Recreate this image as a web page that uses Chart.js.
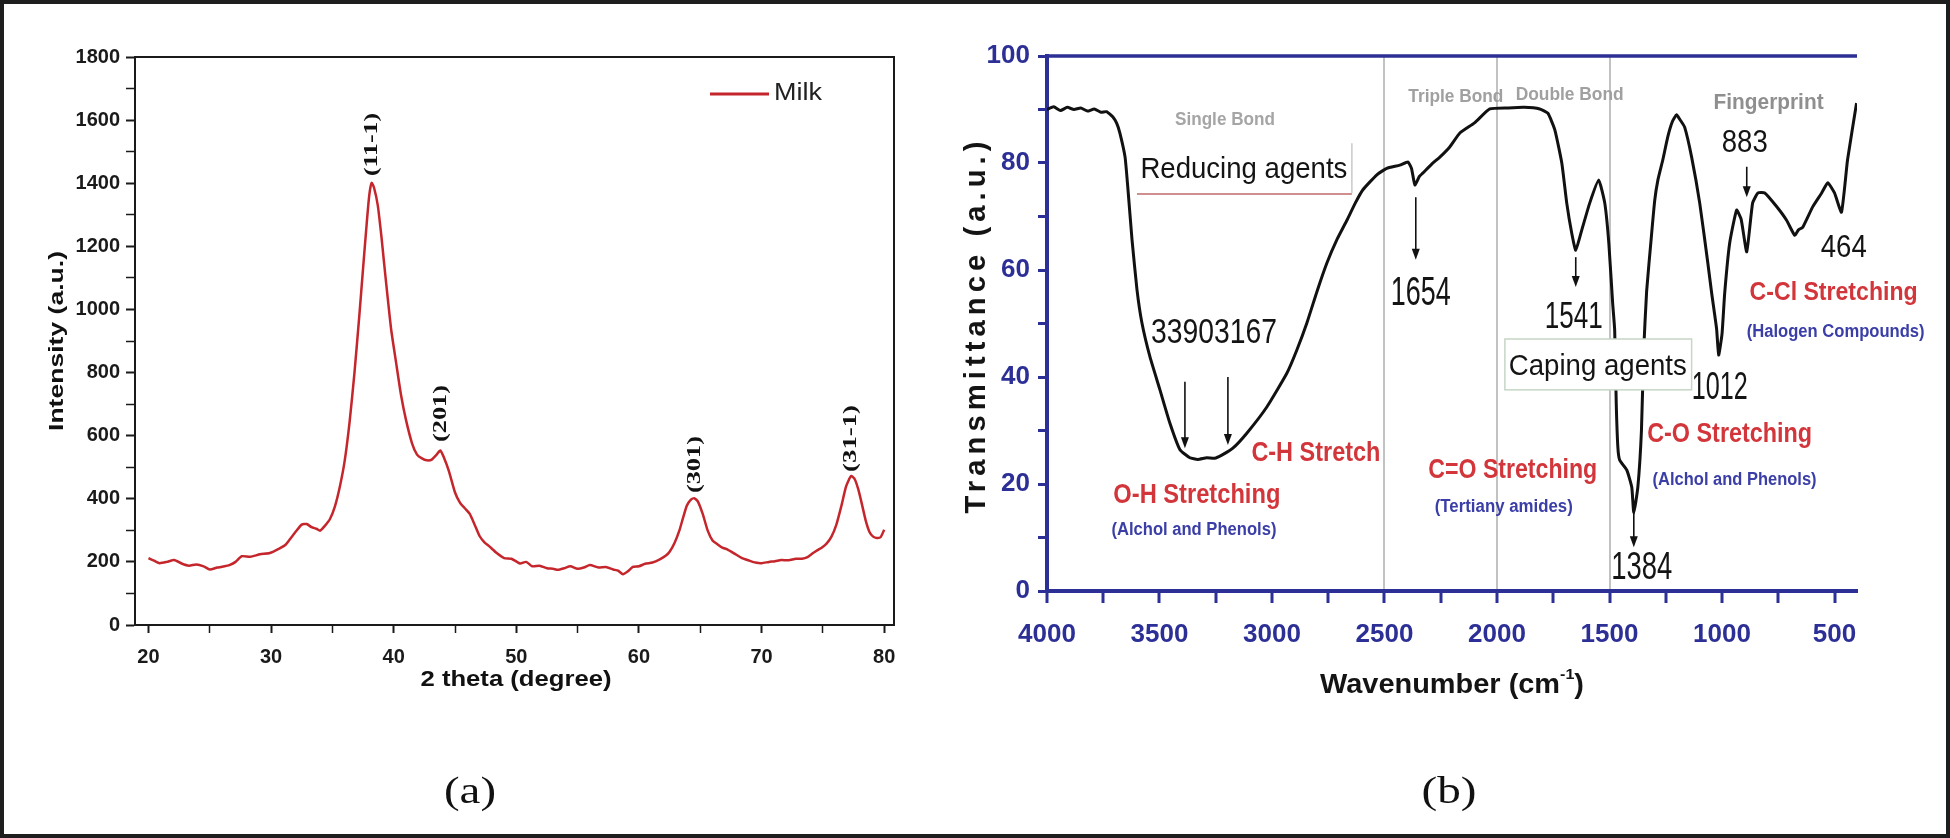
<!DOCTYPE html>
<html>
<head>
<meta charset="utf-8">
<script src="https://cdn.jsdelivr.net/npm/chart.js@4.4.1/dist/chart.umd.min.js"></script>
<style>
  html, body { margin: 0; padding: 0; background: #fff; }
  #page { position: relative; width: 1950px; height: 838px; overflow: hidden; background: #fff; }
  #frame { position: absolute; left: 0; top: 0; width: 1950px; height: 838px; box-sizing: border-box; border: 4px solid #1e1e1e; pointer-events: none; }
  #wa { position: absolute; left: 0; top: 0; width: 960px; height: 838px; }
  #wb { position: absolute; left: 960px; top: 0; width: 990px; height: 838px; }
</style>
</head>
<body>
<div id="page">
  <div id="wa"><canvas id="xrd"></canvas></div>
  <div id="wb"><canvas id="ftir"></canvas></div>
  <div id="frame"></div>
</div>
<script>
// (a) XRD pattern, milk
const xrdTheta = [20, 20.5, 20.9, 21.5, 22.1, 22.7, 23.3, 23.9, 24.5, 25, 25.6, 26.2, 26.6, 27.1, 27.6, 28.3, 29.1, 29.9, 30.7, 31.2,
  31.6, 32.1, 32.5, 32.9, 33.3, 33.7, 34, 34.4, 34.8, 35.2, 35.6, 36, 36.4, 36.8, 37.2, 37.5, 37.8, 38.0, 38.2, 38.4,
  38.7, 39.0, 39.2, 39.5, 39.8, 40.2, 40.6, 41.0, 41.5, 41.9, 42.3, 42.7, 43.1, 43.5, 43.8, 44.1, 44.5, 45.0, 45.4, 45.8,
  46.2, 46.6, 47.0, 47.4, 47.8, 48.4, 49.0, 49.6, 50.3, 50.8, 51.3, 51.9, 52.5, 53.0, 53.4, 53.9, 54.4, 55.0, 55.5, 56.0,
  56.7, 57.3, 57.9, 58.3, 58.7, 59.1, 59.5, 60.0, 60.5, 61.1, 61.7, 62.2, 62.5, 62.9, 63.3, 63.6, 63.9, 64.2, 64.5, 64.8,
  65.2, 65.6, 66.0, 66.4, 66.8, 67.2, 67.8, 68.4, 69.0, 69.5, 70.0, 70.6, 71.1, 71.6, 72.2, 72.8, 73.3, 73.7, 74.2, 74.6,
  74.9, 75.3, 75.7, 76.1, 76.5, 76.9, 77.3, 77.6, 77.9, 78.2, 78.5, 78.8, 79.1, 79.4, 79.7, 80.0];
const xrdIntensity = [212, 203, 196, 200, 206, 195, 188, 192, 186, 176, 182, 186, 190, 200, 218, 216, 224, 228, 243, 255,
  275, 300, 318, 320, 310, 305, 299, 315, 336, 375, 437, 520, 643, 800, 983, 1130, 1274, 1360, 1401, 1385,
  1330, 1230, 1152, 1040, 934, 830, 728, 650, 575, 540, 528, 522, 524, 540, 553, 530, 488, 420, 388, 370,
  352, 318, 282, 262, 249, 228, 212, 210, 195, 200, 186, 188, 180, 178, 175, 180, 186, 178, 182, 190,
  182, 184, 176, 172, 161, 170, 184, 186, 194, 198, 208, 220, 232, 260, 300, 340, 378, 396, 402, 392,
  352, 300, 268, 256, 245, 240, 226, 212, 204, 198, 196, 200, 202, 206, 205, 210, 210, 214, 228, 238,
  245, 258, 280, 318, 376, 440, 472, 462, 428, 380, 330, 295, 280, 276, 278, 302];
const xrdXTicks = [20, 25, 30, 35, 40, 45, 50, 55, 60, 65, 70, 75, 80];
const xrdXLabels = [20, 30, 40, 50, 60, 70, 80];
const xrdYTicks = [0, 100, 200, 300, 400, 500, 600, 700, 800, 900, 1000, 1100, 1200, 1300, 1400, 1500, 1600, 1700, 1800];
const xrdYLabels = [0, 200, 400, 600, 800, 1000, 1200, 1400, 1600, 1800];
const xrdPeaks = ['(11-1)', '(201)', '(301)', '(31-1)'];
const xrdPeakTheta = [38.2, 43.9, 64.6, 77.3];
const xrdPeakTop = [1423, 580, 418, 485];

// (b) FTIR spectrum
const irWave = [4000, 3970, 3940, 3910, 3880, 3850, 3820, 3790, 3760, 3735, 3707, 3690, 3676, 3653, 3640, 3622, 3600, 3578, 3542, 3498,
  3454, 3409, 3365, 3330, 3290, 3255, 3223, 3174, 3112, 3023, 2934, 2890, 2845, 2800, 2756, 2710, 2667, 2630, 2596, 2534,
  2490, 2432, 2396, 2380, 2365, 2345, 2330, 2290, 2254, 2210, 2165, 2100, 2032, 1950, 1880, 1810, 1774, 1743, 1712, 1690,
  1668, 1650, 1623, 1588, 1548, 1521, 1503, 1486, 1477, 1470, 1463, 1455, 1423, 1401, 1392, 1374, 1358, 1348, 1335, 1314,
  1299, 1285, 1263, 1241, 1220, 1202, 1185, 1166, 1135, 1099, 1063, 1046, 1024, 1015, 1000, 988, 966, 935, 915, 890,
  864, 840, 810, 760, 713, 677, 660, 641, 597, 557, 530, 500, 469, 442, 402];
const irTrans = [90.0, 90.5, 89.8, 90.4, 90.0, 90.3, 89.7, 90.1, 89.5, 89.6, 88.6, 87.4, 85.6, 81.1, 75, 65.6, 56.3, 50.1, 43.7, 37.6,
  31.4, 26.4, 24.9, 24.6, 24.9, 24.8, 25.4, 26.7, 29.5, 34.4, 40.7, 45, 50.1, 56, 61.3, 65.8, 69.3, 72.5, 75, 77.8,
  79.0, 79.6, 80.2, 79, 75.9, 77.5, 78.1, 79.8, 81.1, 83, 85.6, 87.5, 90.1, 90.3, 90.4, 90.1, 89.3, 86.2, 80, 72.5,
  66.9, 63.7, 67.5, 72.5, 76.8, 72.5, 65, 53.8, 48.8, 35, 27, 24.5, 22.6, 19.4, 14.6, 19.4, 30, 45, 56, 66.2,
  73, 76.8, 80.6, 84.9, 87.8, 89, 88, 86.7, 81.1, 72.5, 61.3, 55.7, 49, 44.1, 48, 55.7, 65, 71.2, 69.5, 63.4,
  72.5, 74.4, 74.4, 72, 69.3, 66.5, 67.5, 68, 71.8, 74.4, 76.3, 74.4, 70.8, 80.6, 91.2];
const irXTicks = [4000, 3750, 3500, 3250, 3000, 2750, 2500, 2250, 2000, 1750, 1500, 1250, 1000, 750, 500];
const irXLabels = [4000, 3500, 3000, 2500, 2000, 1500, 1000, 500];
const irYTicks = [0, 10, 20, 30, 40, 50, 60, 70, 80, 90, 100];
const irYLabels = [0, 20, 40, 60, 80, 100];
const irRegionEdges = [2500, 2000, 1500];

const sans = "'Liberation Sans',Arial,sans-serif";
const serif = "'Liberation Serif','Times New Roman',serif";
const navy = '#2c2f95';
const red = '#d2353a';
const blue = '#3a3ea6';

// text squeezed/stretched to a measured width, like the narrow fonts of the figure
function drawText(ctx, str, x, y, o) {
  ctx.save();
  ctx.font = (o.weight || 'bold') + ' ' + o.size + 'px ' + (o.family || sans);
  ctx.fillStyle = o.color || '#111';
  ctx.textAlign = 'center';
  ctx.textBaseline = 'middle';
  if (o.ls && 'letterSpacing' in ctx) ctx.letterSpacing = o.ls + 'px';
  ctx.translate(x, y);
  if (o.rot) ctx.rotate(o.rot);
  if (o.w) ctx.scale(o.w / ctx.measureText(str).width, 1);
  ctx.fillText(str, 0, 0);
  ctx.restore();
}

function arrow(ctx, x, y1, y2) {
  const dir = y2 > y1 ? 1 : -1;
  ctx.save();
  ctx.strokeStyle = '#111';
  ctx.fillStyle = '#111';
  ctx.lineWidth = 1.6;
  ctx.beginPath();
  ctx.moveTo(x, y1);
  ctx.lineTo(x, y2 - 8 * dir);
  ctx.stroke();
  ctx.beginPath();
  ctx.moveTo(x, y2);
  ctx.lineTo(x - 4, y2 - 11 * dir);
  ctx.lineTo(x + 4, y2 - 11 * dir);
  ctx.closePath();
  ctx.fill();
  ctx.restore();
}

// ---------- (a) ----------
const xrdDecor = {
  id: 'xrdDecor',
  afterDraw(chart) {
    const ctx = chart.ctx, a = chart.chartArea;
    const xs = chart.scales.x, ys = chart.scales.y;
    ctx.save();
    ctx.strokeStyle = '#1a1a1a';
    ctx.lineWidth = 2;
    ctx.strokeRect(a.left, a.top, a.right - a.left, a.bottom - a.top);
    ctx.restore();

    const lens = [63, 57, 57, 67];
    xrdPeaks.forEach((p, i) => {
      const px = xs.getPixelForValue(xrdPeakTheta[i]);
      const py = ys.getPixelForValue(xrdPeakTop[i]) - lens[i] / 2;
      drawText(ctx, p, px, py, { size: 19, family: serif, w: lens[i], rot: -Math.PI / 2, color: '#111' });
    });

    // legend
    const ds = chart.data.datasets[0];
    ctx.save();
    ctx.strokeStyle = ds.borderColor;
    ctx.lineWidth = 3;
    ctx.beginPath();
    ctx.moveTo(710, 94);
    ctx.lineTo(769, 94);
    ctx.stroke();
    ctx.restore();
    drawText(ctx, ds.label, 798, 94, { size: 23, weight: 'normal', w: 48, color: '#222' });

    drawText(ctx, 'Intensity (a.u.)', 57, 341, { size: 21, w: 180, rot: -Math.PI / 2 });
    drawText(ctx, '2 theta (degree)', 516, 680, { size: 22, w: 191 });
    drawText(ctx, '(a)', 470, 793, { size: 38, weight: 'normal', family: serif, w: 52 });
  }
};

new Chart(document.getElementById('xrd'), {
  type: 'line',
  data: {
    datasets: [{
      label: 'Milk',
      data: xrdTheta.map((t, i) => ({ x: t, y: xrdIntensity[i] })),
      borderColor: '#c4262c',
      borderWidth: 2.5,
      pointRadius: 0,
      tension: 0.2,
      fill: false
    }]
  },
  options: {
    responsive: true,
    maintainAspectRatio: false,
    animation: false,
    devicePixelRatio: 1,
    layout: { padding: { left: 0, right: 66, top: 57, bottom: 143 } },
    plugins: { legend: { display: false }, tooltip: { enabled: false } },
    scales: {
      x: {
        type: 'linear',
        min: 18.9,
        max: 80.8,
        afterBuildTicks: s => { s.ticks = xrdXTicks.map(v => ({ value: v })); },
        afterFit: s => { s.height = 70; },
        grid: { drawOnChartArea: false, tickLength: 8, tickColor: '#1a1a1a',
          tickWidth: c => xrdXLabels.includes(c.tick && c.tick.value) ? 2 : 1.5 },
        border: { display: true, color: '#1a1a1a', width: 2 },
        ticks: {
          autoSkip: false, maxRotation: 0, padding: 12, color: '#1a1a1a',
          font: { family: sans, weight: 'bold', size: 20 },
          callback: v => xrdXLabels.includes(v) ? String(v) : ''
        }
      },
      y: {
        min: 0,
        max: 1800,
        afterBuildTicks: s => { s.ticks = xrdYTicks.map(v => ({ value: v })); },
        afterFit: s => { s.width = 135; },
        grid: { drawOnChartArea: false, tickLength: 9, tickColor: '#1a1a1a',
          tickWidth: c => xrdYLabels.includes(c.tick && c.tick.value) ? 2 : 1.5 },
        border: { display: true, color: '#1a1a1a', width: 2 },
        ticks: {
          autoSkip: false, padding: 6, color: '#1a1a1a',
          font: { family: sans, weight: 'bold', size: 20 },
          callback: v => xrdYLabels.includes(v) ? String(v) : ''
        }
      }
    }
  },
  plugins: [xrdDecor]
});

// ---------- (b) ----------
const irNotes = [
  { t: 'Single Bond', x: 3209, y: 88.0, size: 18, w: 100, color: '#a5a5a5' },
  { t: 'Triple Bond', x: 2183, y: 92.3, size: 18, w: 95, color: '#a0a0a0' },
  { t: 'Double Bond', x: 1677, y: 92.7, size: 18, w: 108, color: '#a0a0a0' },
  { t: 'Fingerprint', x: 793, y: 91.2, size: 22, w: 110, color: '#8f8f8f' },
  { t: 'Reducing agents', x: 3125, y: 78.7, size: 30, w: 207, color: '#141414', weight: 'normal' },
  { t: '33903167', x: 3258, y: 48.2, size: 35, w: 126, color: '#141414', weight: 'normal' },
  { t: 'C-H Stretch', x: 2805, y: 25.8, size: 28, w: 129, color: red },
  { t: 'O-H Stretching', x: 3334, y: 17.9, size: 28, w: 167, color: red },
  { t: '(Alchol and Phenols)', x: 3347, y: 11.4, size: 18, w: 165, color: blue },
  { t: '1654', x: 2339, y: 55.5, size: 40, w: 60, color: '#141414', weight: 'normal' },
  { t: '1541', x: 1659, y: 51.0, size: 36, w: 58, color: '#141414', weight: 'normal' },
  { t: '1012', x: 1010, y: 37.8, size: 38, w: 56, color: '#141414', weight: 'normal' },
  { t: 'C=O Stretching', x: 1930, y: 22.6, size: 28, w: 169, color: red },
  { t: '(Tertiany amides)', x: 1970, y: 15.7, size: 18, w: 138, color: blue },
  { t: '1384', x: 1357, y: 4.3, size: 39, w: 61, color: '#141414', weight: 'normal' },
  { t: 'C-O Stretching', x: 966, y: 29.2, size: 28, w: 165, color: red },
  { t: '(Alchol and Phenols)', x: 944, y: 20.7, size: 18, w: 164, color: blue },
  { t: '883', x: 899, y: 83.7, size: 32, w: 46, color: '#141414', weight: 'normal' },
  { t: '464', x: 459, y: 64.0, size: 32, w: 46, color: '#141414', weight: 'normal' },
  { t: 'C-Cl Stretching', x: 504, y: 55.7, size: 26, w: 168, color: red },
  { t: '(Halogen Compounds)', x: 495, y: 48.4, size: 18, w: 178, color: blue }
];
const irArrows = [
  { x: 3387, from: 39.1, to: 26.7 },
  { x: 3196, from: 40.0, to: 27.3 },
  { x: 2361, from: 73.6, to: 61.9 },
  { x: 1650, from: 62.4, to: 56.8 },
  { x: 1392, from: 14.6, to: 8.2 },
  { x: 890, from: 79.3, to: 73.6 }
];

const irDecor = {
  id: 'irDecor',
  afterDraw(chart) {
    const ctx = chart.ctx, a = chart.chartArea;
    const xs = chart.scales.x, ys = chart.scales.y;
    const X = v => xs.getPixelForValue(v), Y = v => ys.getPixelForValue(v);

    // top frame line
    ctx.save();
    ctx.strokeStyle = navy;
    ctx.lineWidth = 3.5;
    ctx.beginPath();
    ctx.moveTo(a.left, a.top);
    ctx.lineTo(a.right, a.top);
    ctx.stroke();
    ctx.restore();

    // "Reducing agents" box edges
    ctx.save();
    ctx.lineWidth = 1.5;
    ctx.strokeStyle = '#c9c9c9';
    ctx.beginPath();
    ctx.moveTo(X(2645), Y(83.7));
    ctx.lineTo(X(2645), Y(74.4));
    ctx.stroke();
    ctx.strokeStyle = '#c06a6a';
    ctx.beginPath();
    ctx.moveTo(X(3600), Y(74.2));
    ctx.lineTo(X(2645), Y(74.2));
    ctx.stroke();
    // "Caping agents" box
    ctx.fillStyle = '#fff';
    ctx.strokeStyle = '#c6d6c6';
    const bx = X(1965), by = Y(47.1), bw = X(1135) - X(1965), bh = Y(37.6) - Y(47.1);
    ctx.fillRect(bx, by, bw, bh);
    ctx.strokeRect(bx, by, bw, bh);
    ctx.restore();
    drawText(ctx, 'Caping agents', X(1552), Y(41.9), { size: 30, weight: 'normal', w: 178, color: '#141414' });

    irNotes.forEach(n => drawText(ctx, n.t, X(n.x), Y(n.y), n));
    irArrows.forEach(r => arrow(ctx, X(r.x), Y(r.from), Y(r.to)));

    drawText(ctx, 'Transmittance (a.u.)', 17, 325, { size: 29, ls: 5, w: 377, rot: -Math.PI / 2, color: '#141414' });

    // x title with superscript
    ctx.save();
    const big = 'bold 27px ' + sans, small = 'bold 15px ' + sans;
    ctx.font = big;
    const w1 = ctx.measureText('Wavenumber (cm').width, w3 = ctx.measureText(')').width;
    ctx.font = small;
    const w2 = ctx.measureText('-1').width;
    const target = 264;
    ctx.translate(492 - target / 2, 683);
    ctx.scale(target / (w1 + w2 + w3), 1);
    ctx.fillStyle = '#141414';
    ctx.textAlign = 'left';
    ctx.textBaseline = 'alphabetic';
    ctx.font = big;
    ctx.fillText('Wavenumber (cm', 0, 10);
    ctx.font = small;
    ctx.fillText('-1', w1, -4);
    ctx.font = big;
    ctx.fillText(')', w1 + w2, 10);
    ctx.restore();

    drawText(ctx, '(b)', 489, 793, { size: 38, weight: 'normal', family: serif, w: 55 });
  }
};

new Chart(document.getElementById('ftir'), {
  type: 'line',
  data: {
    datasets: [{
      label: 'FTIR',
      data: irWave.map((w, i) => ({ x: w, y: irTrans[i] })),
      borderColor: '#111',
      borderWidth: 3,
      pointRadius: 0,
      tension: 0.15,
      fill: false
    }]
  },
  options: {
    responsive: true,
    maintainAspectRatio: false,
    animation: false,
    devicePixelRatio: 1,
    layout: { padding: { left: 0, right: 93, top: 56, bottom: 172 } },
    plugins: { legend: { display: false }, tooltip: { enabled: false } },
    scales: {
      x: {
        type: 'linear',
        reverse: true,
        min: 400,
        max: 4000,
        afterBuildTicks: s => { s.ticks = irXTicks.map(v => ({ value: v })); },
        afterFit: s => { s.height = 75; },
        grid: {
          drawOnChartArea: true, tickLength: 12, tickColor: navy, tickWidth: 3, lineWidth: 2,
          color: c => irRegionEdges.includes(c.tick && c.tick.value) ? '#c2c2c2' : 'rgba(0,0,0,0)'
        },
        border: { display: true, color: navy, width: 4 },
        ticks: {
          autoSkip: false, maxRotation: 0, padding: 16, color: navy,
          font: { family: sans, weight: 'bold', size: 26 },
          callback: v => irXLabels.includes(v) ? String(v) : ''
        }
      },
      y: {
        min: 0,
        max: 100,
        afterBuildTicks: s => { s.ticks = irYTicks.map(v => ({ value: v })); },
        afterFit: s => { s.width = 87; },
        grid: { drawOnChartArea: false, tickLength: 9, tickColor: navy, tickWidth: 3 },
        border: { display: true, color: navy, width: 4 },
        ticks: {
          autoSkip: false, padding: 8, color: navy,
          font: { family: sans, weight: 'bold', size: 26 },
          callback: v => irYLabels.includes(v) ? String(v) : ''
        }
      }
    }
  },
  plugins: [irDecor]
});
</script>
</body>
</html>
